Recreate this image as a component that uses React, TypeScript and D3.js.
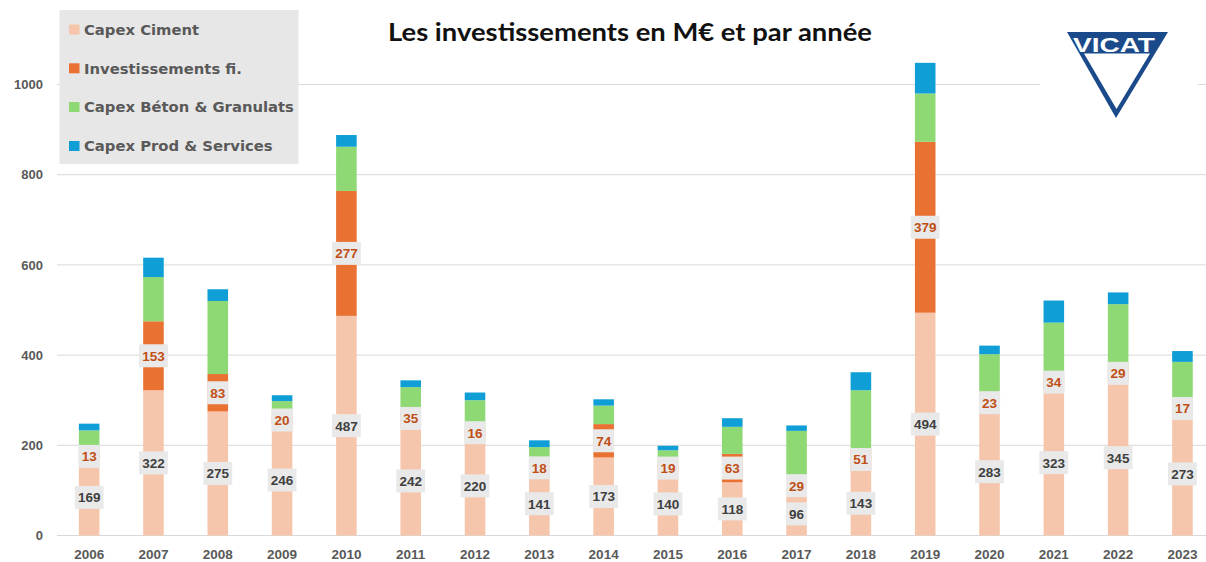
import React from "react";
import * as d3 from "d3";

const years = ["2006","2007","2008","2009","2010","2011","2012","2013","2014","2015","2016","2017","2018","2019","2020","2021","2022","2023"];
const capexCiment = [169,322,275,246,487,242,220,141,173,140,118,96,143,494,283,323,345,273];
const investFi = [13,153,83,20,277,35,16,18,74,19,63,29,51,379,23,34,29,17];
const capexBeton = [51,98,162,32,98,52,64,37,41,30,60,107,128,107,96,115,139,95];
const capexProd = [15,43,26,13,26,15,17,15,14,10,19,12,40,68,19,49,26,24];
const yTicks = [0,200,400,600,800,1000];

const seriesNames = ["Capex Ciment","Investissements fi.","Capex Béton & Granulats","Capex Prod & Services"];
const seriesColors = ["#F6C6AC","#E97132","#8ED973","#0F9ED5"];

const W = 1206, H = 562;

export default function App() {
  const x = d3.scaleBand<string>().domain(years).range([57, 1214.6]).paddingInner(0.68).paddingOuter(0.34);
  const y = d3.scaleLinear().domain([0, 1000]).range([535.5, 84.5]);
  const rows = years.map((yr, i) => ({ year: yr, ciment: capexCiment[i], inv: investFi[i], beton: capexBeton[i], prod: capexProd[i] }));
  const keys = ["ciment","inv","beton","prod"];
  const stacked = d3.stack<any>().keys(keys)(rows);
  const bw = x.bandwidth();
  const axisFont = "'Liberation Sans', Arial, sans-serif";

  const labelBox = (cx: number, cy: number, text: string, color: string, key: string) => {
    const w = text.length * 7.6 + 6;
    return (
      <g key={key}>
        <rect x={cx - w / 2} y={cy - 11.5} width={w} height={23} fill="#E9E9E9" />
        <text x={cx} y={cy} dy="0.36em" textAnchor="middle" fontFamily={axisFont} fontWeight="bold" fontSize={13.5} fill={color}>{text}</text>
      </g>
    );
  };

  return (
    <svg width={W} height={H} style={{ position: "absolute", left: 0, top: 0, background: "#fff" }}>
      <rect x={0} y={0} width={W} height={H} fill="#fff" />
      {yTicks.map(t => (
        <g key={t}>
          <line x1={57} x2={W} y1={y(t)} y2={y(t)} stroke="#D9D9D9" strokeWidth={1} />
          <text x={43} y={y(t)} dy="0.36em" textAnchor="end" fontFamily={axisFont} fontWeight="bold" fontSize={13} fill="#595959">{t}</text>
        </g>
      ))}
      {stacked.map((s, si) => (
        <g key={si} fill={seriesColors[si]}>
          {s.map((d: any, i: number) => (
            <rect key={i} x={x(years[i])!} y={y(d[1])} width={bw} height={y(d[0]) - y(d[1])} />
          ))}
        </g>
      ))}
      {stacked[0].map((d: any, i: number) => labelBox(x(years[i])! + bw / 2, y((d[0] + d[1]) / 2), String(capexCiment[i]), "#404040", "c" + i))}
      {stacked[1].map((d: any, i: number) => labelBox(x(years[i])! + bw / 2, y((d[0] + d[1]) / 2), String(investFi[i]), "#C04F15", "o" + i))}
      {years.map(yr => (
        <text key={yr} x={x(yr)! + bw / 2} y={558.5} textAnchor="middle" fontFamily={axisFont} fontWeight="bold" fontSize={13.5} fill="#595959">{yr}</text>
      ))}
      {/* Legend */}
      <rect x={59.5} y={10} width={239} height={154} fill="#E7E7E7" />
      {seriesNames.map((n, i) => {
        const cy = [29.5, 68.3, 107, 146][i];
        return (
          <g key={n}>
            <rect x={69} y={cy - 5} width={10.5} height={10} fill={seriesColors[i]} />
            <text x={84} y={cy} dy="0.36em" fontFamily="'DejaVu Sans', sans-serif" fontWeight="bold" fontSize={14.8} fill="#595959">{n}</text>
          </g>
        );
      })}
      {/* Title */}
      <text x={630} y={41} textAnchor="middle" fontFamily="Lato, 'Open Sans', sans-serif" fontWeight="bold" fontSize={25.5} fill="#111" textLength={484} lengthAdjust="spacingAndGlyphs">Les investissements en M€ et par année</text>
      {/* Logo */}
      <rect x={1040} y={20} width={158} height={105} fill="#fff" />
      <polygon points="1067,32 1168,32 1116,118" fill="#1B4A8A" />
      <polygon points="1084,53.5 1150,53.5 1116.5,109" fill="#fff" />
      <text x={1073} y={51.5} fontFamily={axisFont} fontWeight="bold" fontSize={21} fill="#fff" textLength={82} lengthAdjust="spacingAndGlyphs">VICAT</text>
    </svg>
  );
}
